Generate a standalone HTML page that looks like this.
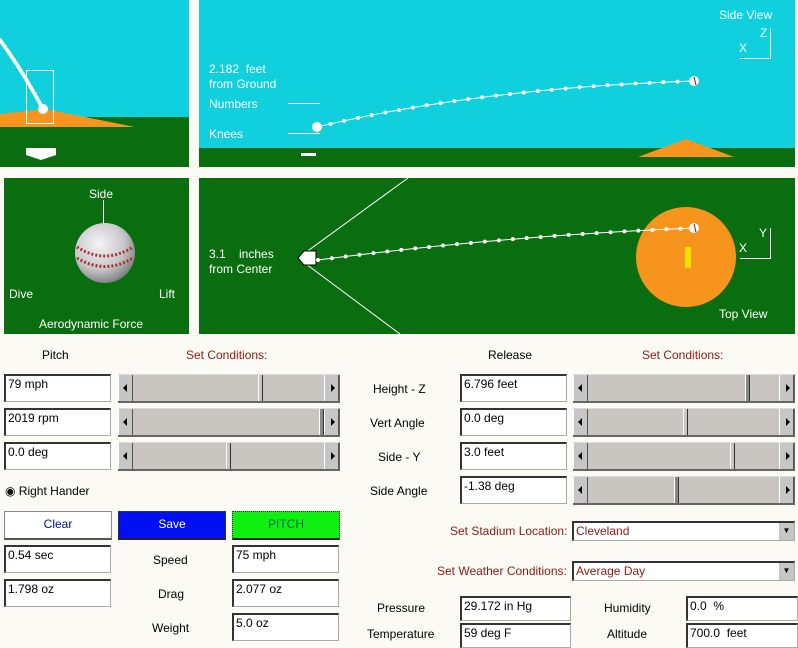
<!DOCTYPE html>
<html><head><meta charset="utf-8"><style>
*{margin:0;padding:0;box-sizing:border-box}
body{width:798px;height:647px;background:#fbfaf5;position:relative;overflow:hidden;font-family:"Liberation Sans",sans-serif;font-size:12px;color:#000}
.a{position:absolute}
.t{position:absolute;white-space:nowrap}
.w{color:#fff}
.r{color:#8b1a10}
.f{position:absolute;background:#fff;border-top:2px solid #333;border-left:2px solid #333;border-bottom:1px solid #aaa;border-right:1px solid #aaa;padding:1px 0 0 2px;font-size:12px;white-space:nowrap}
.s{position:absolute;background:#c9c6c2;border-bottom:2px solid #666;border-right:1px solid #666;border-top:1px solid #ddd}
.s .l,.s .rr{position:absolute;top:0;width:15px;height:100%;background:#c6c6c6;border-right:1px solid #555;border-left:1px solid #fff}
.s .l{left:0}.s .rr{right:0}
.s .l:after{content:"";position:absolute;left:4px;top:50%;margin-top:-4px;border-right:4px solid #000;border-top:4px solid transparent;border-bottom:4px solid transparent}
.s .rr:after{content:"";position:absolute;left:6px;top:50%;margin-top:-4px;border-left:4px solid #000;border-top:4px solid transparent;border-bottom:4px solid transparent}
.s .th{position:absolute;top:0;width:5px;height:100%;background:#888;border-left:1px solid #fff;border-right:1px solid #333}
.b{position:absolute;text-align:center;font-size:12px;line-height:24px}
.d{position:absolute;background:#fff;border-top:2px solid #333;border-left:2px solid #333;border-bottom:1px solid #aaa;border-right:1px solid #aaa;color:#8b1a10;padding-left:2px;line-height:16px}
.d:after{content:"▼";position:absolute;right:0;top:0;width:15px;height:100%;background:#c6c6c6;color:#000;font-size:8px;text-align:center;line-height:16px}
</style></head><body>
<svg class="a" style="left:0;top:0" width="798" height="340">
 <!-- top-left -->
 <rect x="0" y="0" width="189" height="167" fill="#10d0dd"/>
 <rect x="0" y="117" width="189" height="50" fill="#0a6e10"/>
 <polygon points="0,127 0,114 45,109 135,127" fill="#f7941d"/>
 <rect x="26.5" y="70.5" width="27" height="53" fill="none" stroke="#fff"/>
 <path d="M0,40 Q22,70 43,109" fill="none" stroke="#fff" stroke-width="4" stroke-dasharray="1 3" stroke-linecap="round"/>
 <circle cx="43" cy="109" r="5" fill="#fff"/>
 <polygon points="26,148 56,148 56,155 41,160 26,155" fill="#fff"/>
 <!-- top-right -->
 <rect x="199" y="0" width="596" height="167" fill="#10d0dd"/>
 <rect x="199" y="148" width="596" height="19" fill="#0a6e10"/>
 <polygon points="638,157 686,139 734,157" fill="#f7941d"/>
 <line x1="288" y1="103.5" x2="320" y2="103.5" stroke="#fff"/>
 <line x1="288" y1="133.5" x2="320" y2="133.5" stroke="#fff"/>
 <rect x="301" y="153" width="15" height="3" fill="#fff"/>
 <path d="M317,127 Q480,88 694,81" fill="none" stroke="#fff" stroke-width="1"/>
 <path d="M317,127 Q480,88 694,81" fill="none" stroke="#fff" stroke-width="4" stroke-dasharray="0 14" stroke-linecap="round"/>
 <circle cx="317" cy="127" r="5" fill="#fff"/>
 <circle cx="694" cy="81" r="5" fill="#fff"/>
 <line x1="694" y1="77" x2="696" y2="85" stroke="#8b1a10"/>
 <polyline points="740,58.5 770.5,58.5 770.5,28" fill="none" stroke="#fff"/>
 <!-- bottom-left -->
 <rect x="4" y="178" width="185" height="156" fill="#0a6e10"/>
 <line x1="103.5" y1="200" x2="103.5" y2="226" stroke="#fff"/>
 <defs><radialGradient id="g" cx="0.4" cy="0.35" r="0.7"><stop offset="0" stop-color="#f4f4f4"/><stop offset="0.6" stop-color="#c8c8cc"/><stop offset="1" stop-color="#777"/></radialGradient></defs>
 <circle cx="105" cy="253" r="30" fill="url(#g)"/>
 <path d="M77,247 Q105,265 133,247" fill="none" stroke="#b03030" stroke-width="3" stroke-dasharray="2 2"/>
 <path d="M77,258 Q105,275 133,258" fill="none" stroke="#b03030" stroke-width="3" stroke-dasharray="2 2"/>
 <!-- bottom-right -->
 <rect x="199" y="178" width="596" height="156" fill="#0a6e10"/>
 <line x1="298" y1="258" x2="408" y2="178" stroke="#fff"/>
 <line x1="298" y1="258" x2="400" y2="334" stroke="#fff"/>
 <circle cx="686" cy="257" r="50" fill="#f7941d"/>
 <rect x="685" y="247" width="6" height="21" fill="#f0e000"/>
 <polygon points="298,258 304,251 316,251 316,265 304,265" fill="#fff" stroke="#000"/>
 <path d="M318,260 Q500,236 694,228" fill="none" stroke="#fff" stroke-width="1"/>
 <path d="M318,260 Q500,236 694,228" fill="none" stroke="#fff" stroke-width="4" stroke-dasharray="0 14" stroke-linecap="round"/>
 <circle cx="694" cy="228" r="5" fill="#fff"/>
 <line x1="694" y1="224" x2="696" y2="232" stroke="#8b1a10"/>
 <polyline points="740,258.5 770.5,258.5 770.5,228" fill="none" stroke="#fff"/>
</svg>
<div class="t w" style="left:209px;top:62px">2.182 &nbsp;feet</div>
<div class="t w" style="left:209px;top:77px">from Ground</div>
<div class="t w" style="left:209px;top:97px">Numbers</div>
<div class="t w" style="left:209px;top:127px">Knees</div>
<div class="t w" style="left:719px;top:8px">Side View</div>
<div class="t w" style="left:760px;top:26px">Z</div>
<div class="t w" style="left:739px;top:41px">X</div>
<div class="t w" style="left:89px;top:187px">Side</div>
<div class="t w" style="left:9px;top:287px">Dive</div>
<div class="t w" style="left:159px;top:287px">Lift</div>
<div class="t w" style="left:39px;top:317px">Aerodynamic Force</div>
<div class="t w" style="left:209px;top:247px">3.1 &nbsp;&nbsp;&nbsp;inches</div>
<div class="t w" style="left:209px;top:262px">from Center</div>
<div class="t w" style="left:759px;top:226px">Y</div>
<div class="t w" style="left:739px;top:241px">X</div>
<div class="t w" style="left:719px;top:307px">Top View</div>

<div class="t" style="left:42px;top:348px">Pitch</div>
<div class="t r" style="left:186px;top:348px">Set Conditions:</div>
<div class="t" style="left:488px;top:348px">Release</div>
<div class="t r" style="left:642px;top:348px">Set Conditions:</div>

<div class="f" style="left:4px;top:374px;width:107px;height:28px">79 mph</div>
<div class="f" style="left:4px;top:408px;width:107px;height:28px">2019 rpm</div>
<div class="f" style="left:4px;top:442px;width:107px;height:28px">0.0 deg</div>
<div class="s" style="left:118px;top:374px;width:222px;height:29px"><div class="l"></div><div class="th" style="left:140px;background:#c9c6c2"></div><div class="rr"></div></div>
<div class="s" style="left:118px;top:408px;width:222px;height:29px"><div class="l"></div><div class="th" style="left:201px"></div><div class="rr"></div></div>
<div class="s" style="left:118px;top:442px;width:222px;height:29px"><div class="l"></div><div class="th" style="left:108px;background:#c9c6c2"></div><div class="rr"></div></div>

<div class="t" style="left:5px;top:484px">◉ Right Hander</div>
<div class="b" style="left:4px;top:511px;width:108px;height:29px;background:#fff;border:1px solid #888;border-bottom:2px solid #555;color:#00108b">Clear</div>
<div class="b" style="left:118px;top:511px;width:108px;height:29px;background:#0010f0;border:1px solid #333;border-bottom:2px solid #222;color:#fff">Save</div>
<div class="b" style="left:232px;top:511px;width:108px;height:29px;background:#10f010;border:1px dotted #333;border-bottom:2px solid #222;color:#064">PITCH</div>

<div class="f" style="left:4px;top:545px;width:107px;height:28px">0.54 sec</div>
<div class="f" style="left:4px;top:579px;width:107px;height:28px">1.798 oz</div>
<div class="t" style="left:153px;top:553px">Speed</div>
<div class="t" style="left:158px;top:587px">Drag</div>
<div class="t" style="left:152px;top:621px">Weight</div>
<div class="f" style="left:232px;top:545px;width:107px;height:28px">75 mph</div>
<div class="f" style="left:232px;top:579px;width:107px;height:28px">2.077 oz</div>
<div class="f" style="left:232px;top:613px;width:107px;height:28px">5.0 oz</div>

<div class="t" style="left:373px;top:382px">Height - Z</div>
<div class="t" style="left:370px;top:416px">Vert Angle</div>
<div class="t" style="left:378px;top:450px">Side - Y</div>
<div class="t" style="left:370px;top:484px">Side Angle</div>
<div class="f" style="left:460px;top:374px;width:107px;height:28px">6.796 feet</div>
<div class="f" style="left:460px;top:408px;width:107px;height:28px">0.0 deg</div>
<div class="f" style="left:460px;top:442px;width:107px;height:28px">3.0 feet</div>
<div class="f" style="left:460px;top:476px;width:107px;height:28px">-1.38 deg</div>
<div class="s" style="left:573px;top:374px;width:222px;height:29px"><div class="l"></div><div class="th" style="left:172px"></div><div class="rr"></div></div>
<div class="s" style="left:573px;top:408px;width:222px;height:29px"><div class="l"></div><div class="th" style="left:110px;background:#c9c6c2"></div><div class="rr"></div></div>
<div class="s" style="left:573px;top:442px;width:222px;height:29px"><div class="l"></div><div class="th" style="left:157px;background:#c9c6c2"></div><div class="rr"></div></div>
<div class="s" style="left:573px;top:476px;width:222px;height:29px"><div class="l"></div><div class="th" style="left:101px"></div><div class="rr"></div></div>

<div class="t r" style="left:450px;top:524px">Set Stadium Location:</div>
<div class="d" style="left:572px;top:521px;width:223px;height:20px">Cleveland</div>
<div class="t r" style="left:437px;top:564px">Set Weather Conditions:</div>
<div class="d" style="left:572px;top:561px;width:223px;height:20px">Average Day</div>

<div class="t" style="left:377px;top:601px">Pressure</div>
<div class="t" style="left:367px;top:627px">Temperature</div>
<div class="f" style="left:460px;top:596px;width:111px;height:25px">29.172 in Hg</div>
<div class="f" style="left:460px;top:623px;width:111px;height:25px">59 deg F</div>
<div class="t" style="left:604px;top:601px">Humidity</div>
<div class="t" style="left:607px;top:627px">Altitude</div>
<div class="f" style="left:686px;top:596px;width:112px;height:25px">0.0 &nbsp;%</div>
<div class="f" style="left:686px;top:623px;width:112px;height:25px">700.0 &nbsp;feet</div>
</body></html>
